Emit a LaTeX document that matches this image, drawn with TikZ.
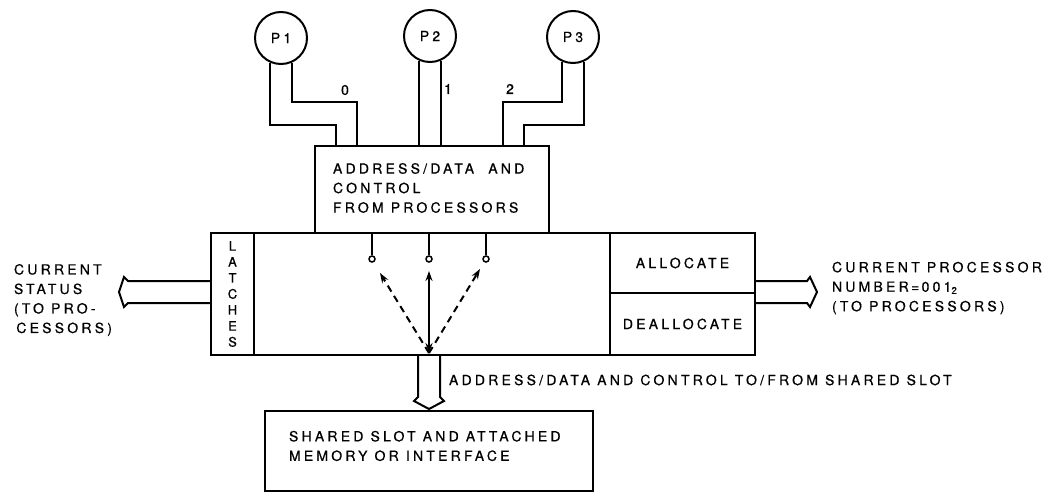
\documentclass[tikz,border=0pt]{standalone}
\usepackage{fontspec}
\newfontfamily\lbl[LetterSpace=23,FakeBold=0.6]{TeX Gyre Heros}
\usetikzlibrary{arrows.meta,calc}
\begin{document}
\begin{tikzpicture}[x=1pt,y=-1pt,line width=2pt,
  txt/.style={font={\lbl\fontsize{14}{19.5}\selectfont},inner sep=0pt,align=left,anchor=west},
  box/.style={draw,line width=2pt,inner sep=0pt,anchor=north west,font={\lbl\fontsize{14}{19.5}\selectfont}},
  proc/.style={circle,draw,minimum size=52pt,inner sep=0pt,font={\lbl\fontsize{14}{16}\selectfont}},
  pin/.style={circle,draw,minimum size=6pt,inner sep=0pt,line width=1.5pt},
  tip/.style={-{Stealth[length=10pt,width=7pt]}},
  bitip/.style={{Stealth[length=10pt,width=7pt]}-{Stealth[length=10pt,width=7pt]}},
]
\useasboundingbox (0,0) rectangle (1043,492);

% processors
\node[proc] (p1) at (281,38) {P1};
\node[proc] (p2) at (430,36) {P2};
\node[proc] (p3) at (573,37) {P3};

% boxes
\node[box,minimum width=234pt,minimum height=87pt] (tb) at (314,145) {};
\node[box,minimum width=544pt,minimum height=122pt] (mb) at (210,232) {};
\node[box,minimum width=43pt,minimum height=122pt,align=center,
      font={\lbl\fontsize{13}{16}\selectfont}] (lat) at (210,232) {L\\A\\T\\C\\H\\E\\S};
\node[box,minimum width=145pt,minimum height=60pt] (alloc) at (609,232) {ALLOCATE};
\node[box,minimum width=145pt,minimum height=62pt] (dealloc) at (609,292) {DEALLOCATE};
\node[box,minimum width=328pt,minimum height=80pt] (sb) at (264,410) {};

% wires from processors
\draw (p1.-114) |- (336,125) -- (336,145);
\draw (p1.-66) |- (357,102) -- (357,145);
\draw (p2.-114) -- (p2.-114 |- tb.north);
\draw (p2.-66) -- (p2.-66 |- tb.north);
\draw (p3.-114) |- (503,102) -- (503,145);
\draw (p3.-66) |- (524,125) -- (524,145);

\node[txt,anchor=center] (l0) at (345,90) {0};
\node[txt,anchor=center] (l1) at (448,89) {1};
\node[txt,anchor=center] (l2) at (510,89) {2};

% texts
\node[txt] (tbt) at (332,188) {ADDRESS/DATA\ \ AND\\CONTROL\\FROM PROCESSORS};
\node[txt] (lt) at (13,300) {CURRENT\\STATUS\\(TO PRO-\\\,CESSORS)};
\node[txt] (rt) at (831,288) {CURRENT PROCESSOR\\NUMBER\,=\,001\textsubscript{2}\\(TO PROCESSORS)};
\node[txt] (bt) at (448,380) {ADDRESS/DATA AND CONTROL TO/FROM SHARED SLOT};
\node[txt] (sbt) at (288,446) {SHARED SLOT AND ATTACHED\\MEMORY OR INTERFACE};

% switch pins
\node[pin] (s1) at (372,259) {};
\node[pin] (s2) at (429,259) {};
\node[pin] (s3) at (486,259) {};
\draw (s1.north) -- (s1.north |- mb.north);
\draw (s2.north) -- (s2.north |- mb.north);
\draw (s3.north) -- (s3.north |- mb.north);

% arrows from bus
\coordinate (c) at (429,353);
\coordinate (a1) at (380,273);
\coordinate (a2) at (429,271);
\coordinate (a3) at (480,269);
\draw[bitip] (c) -- (a2);
\draw[tip,dash pattern=on 7pt off 5pt] (c) -- (a1);
\draw[tip,dash pattern=on 7pt off 5pt] (c) -- (a3);

% bus arrows
\draw (210,281) -- (128,281) -- (124,277) -- (119,292) -- (124,307) -- (128,303) -- (210,303);
\draw (754,281) -- (807,281) -- (810,277) -- (817,292) -- (810,307) -- (807,303) -- (754,303);
\draw (418,354) -- (418,397) -- (414,401) -- (429,409) -- (444,401) -- (440,397) -- (440,354);
\end{tikzpicture}
\end{document}
